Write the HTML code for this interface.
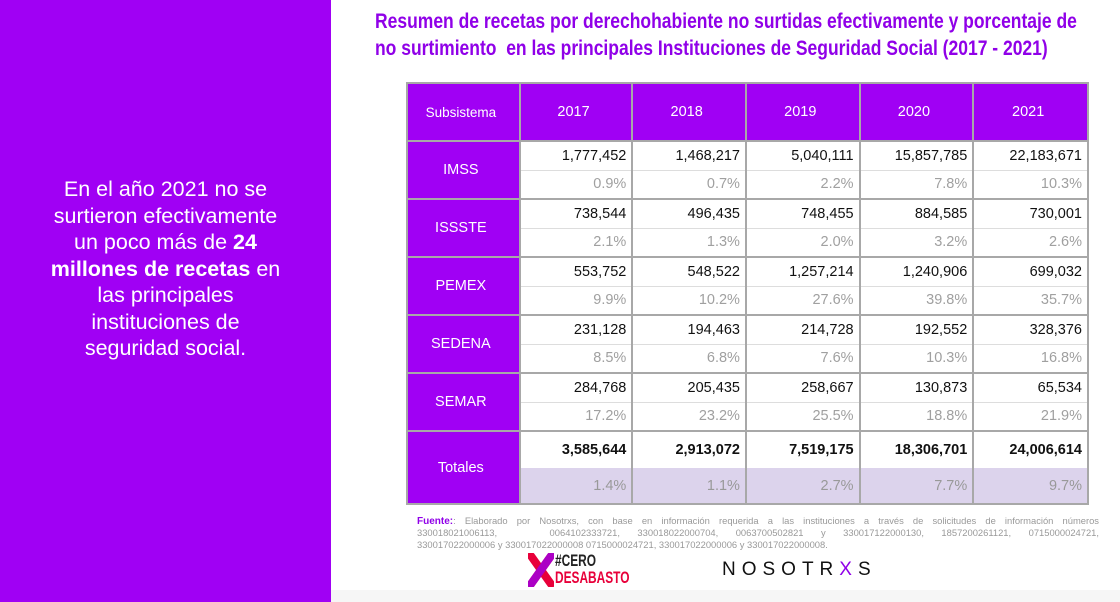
<!DOCTYPE html>
<html><head><meta charset="utf-8"><style>
*{margin:0;padding:0;box-sizing:border-box}
body{width:1120px;height:602px;overflow:hidden;background:#fff;font-family:"Liberation Sans",sans-serif;position:relative}
#left{position:absolute;left:0;top:0;width:331px;height:602px;background:#a000f4}
#lt{position:absolute;left:0;top:176px;width:331px;text-align:center;color:#fff;font-size:21.5px;line-height:26.5px}
.tl{position:absolute;left:375px;color:#9000e8;font-weight:bold;font-size:21px;white-space:nowrap;transform-origin:0 0;transform:scaleX(0.833)}
table{position:absolute;left:406px;top:82px;border-collapse:collapse;width:683px}
td{border:2px solid #a8a8a8;font-size:14.5px;color:#111;text-align:right;padding:0 5px 0 0}
.h{background:#a000f4;color:#fff;text-align:center;height:58px;font-size:14.5px}
.n{height:29px;border-bottom:none}
.p{height:28.5px;border-top:1px solid #ddd;color:#a0a0a0}
.tn{height:37px;font-weight:bold;border-bottom:none}
.tp{height:36px;background:#dcd3ec;color:#999;border-top:none}
#src{position:absolute;left:417px;top:515px;width:682px;font-size:9.4px;line-height:12px;color:#999}
#src div{text-align:justify;text-align-last:justify;white-space:nowrap;height:12px}
#src b{color:#9000e8;font-size:10px}
#bot{position:absolute;left:331px;top:590px;width:789px;height:12px;background:#f6f6f6}
</style></head><body>
<div id="left"><div id="lt">En el año 2021 no se<br>surtieron efectivamente<br>un poco más de <b>24</b><br><b>millones de recetas</b> en<br>las principales<br>instituciones de<br>seguridad social.</div></div>
<div class="tl" style="top:10px">Resumen de recetas por derechohabiente no surtidas efectivamente y porcentaje de</div>
<div class="tl" style="top:37px">no surtimiento&nbsp; en las principales Instituciones de Seguridad Social (2017 - 2021)</div>
<table>
<colgroup><col style="width:113px"><col style="width:113px"><col style="width:114px"><col style="width:114px"><col style="width:114px"><col style="width:115px"></colgroup>
<tr><td class="h" style="font-size:13.5px">Subsistema</td><td class="h">2017</td><td class="h">2018</td><td class="h">2019</td><td class="h">2020</td><td class="h">2021</td></tr>
<tr><td class="h" rowspan="2">IMSS</td><td class="n">1,777,452</td><td class="n">1,468,217</td><td class="n">5,040,111</td><td class="n">15,857,785</td><td class="n">22,183,671</td></tr>
<tr><td class="p">0.9%</td><td class="p">0.7%</td><td class="p">2.2%</td><td class="p">7.8%</td><td class="p">10.3%</td></tr>
<tr><td class="h" rowspan="2">ISSSTE</td><td class="n">738,544</td><td class="n">496,435</td><td class="n">748,455</td><td class="n">884,585</td><td class="n">730,001</td></tr>
<tr><td class="p">2.1%</td><td class="p">1.3%</td><td class="p">2.0%</td><td class="p">3.2%</td><td class="p">2.6%</td></tr>
<tr><td class="h" rowspan="2">PEMEX</td><td class="n">553,752</td><td class="n">548,522</td><td class="n">1,257,214</td><td class="n">1,240,906</td><td class="n">699,032</td></tr>
<tr><td class="p">9.9%</td><td class="p">10.2%</td><td class="p">27.6%</td><td class="p">39.8%</td><td class="p">35.7%</td></tr>
<tr><td class="h" rowspan="2">SEDENA</td><td class="n">231,128</td><td class="n">194,463</td><td class="n">214,728</td><td class="n">192,552</td><td class="n">328,376</td></tr>
<tr><td class="p">8.5%</td><td class="p">6.8%</td><td class="p">7.6%</td><td class="p">10.3%</td><td class="p">16.8%</td></tr>
<tr><td class="h" rowspan="2">SEMAR</td><td class="n">284,768</td><td class="n">205,435</td><td class="n">258,667</td><td class="n">130,873</td><td class="n">65,534</td></tr>
<tr><td class="p">17.2%</td><td class="p">23.2%</td><td class="p">25.5%</td><td class="p">18.8%</td><td class="p">21.9%</td></tr>
<tr><td class="h" rowspan="2">Totales</td><td class="tn">3,585,644</td><td class="tn">2,913,072</td><td class="tn">7,519,175</td><td class="tn">18,306,701</td><td class="tn">24,006,614</td></tr>
<tr><td class="tp">1.4%</td><td class="tp">1.1%</td><td class="tp">2.7%</td><td class="tp">7.7%</td><td class="tp">9.7%</td></tr>
</table>
<div id="src">
<div><b>Fuente:</b>: Elaborado por Nosotrxs, con base en información requerida a las instituciones a través de solicitudes de información números</div>
<div>330018021006113, &nbsp; 0064102333721, 330018022000704, 0063700502821 y 330017122000130, 1857200261121, 0715000024721,</div>
<div style="text-align-last:left">330017022000006 y 330017022000008 0715000024721, 330017022000006 y 330017022000008.</div>
</div>
<svg style="position:absolute;left:528px;top:553px" width="26" height="34"><path d="M3 3 L23 31 M23 3 L3 31" stroke="#e8003a" stroke-width="8" stroke-linecap="round"/><path d="M23 3 L3 31" stroke="#9c00e8" stroke-width="8" stroke-linecap="round" opacity="0.8"/></svg>
<div style="position:absolute;left:555px;top:552px;font-size:17px;line-height:17px;color:#222;font-weight:bold;transform-origin:0 0;transform:scaleX(0.7)">#CERO<br><span style="color:#e8003a">DESABASTO</span></div>
<div style="position:absolute;left:722px;top:559px;font-size:19px;letter-spacing:6px;color:#111">NOSOTR<span style="color:#9000e8">X</span>S</div>
<div id="bot"></div>
</body></html>
